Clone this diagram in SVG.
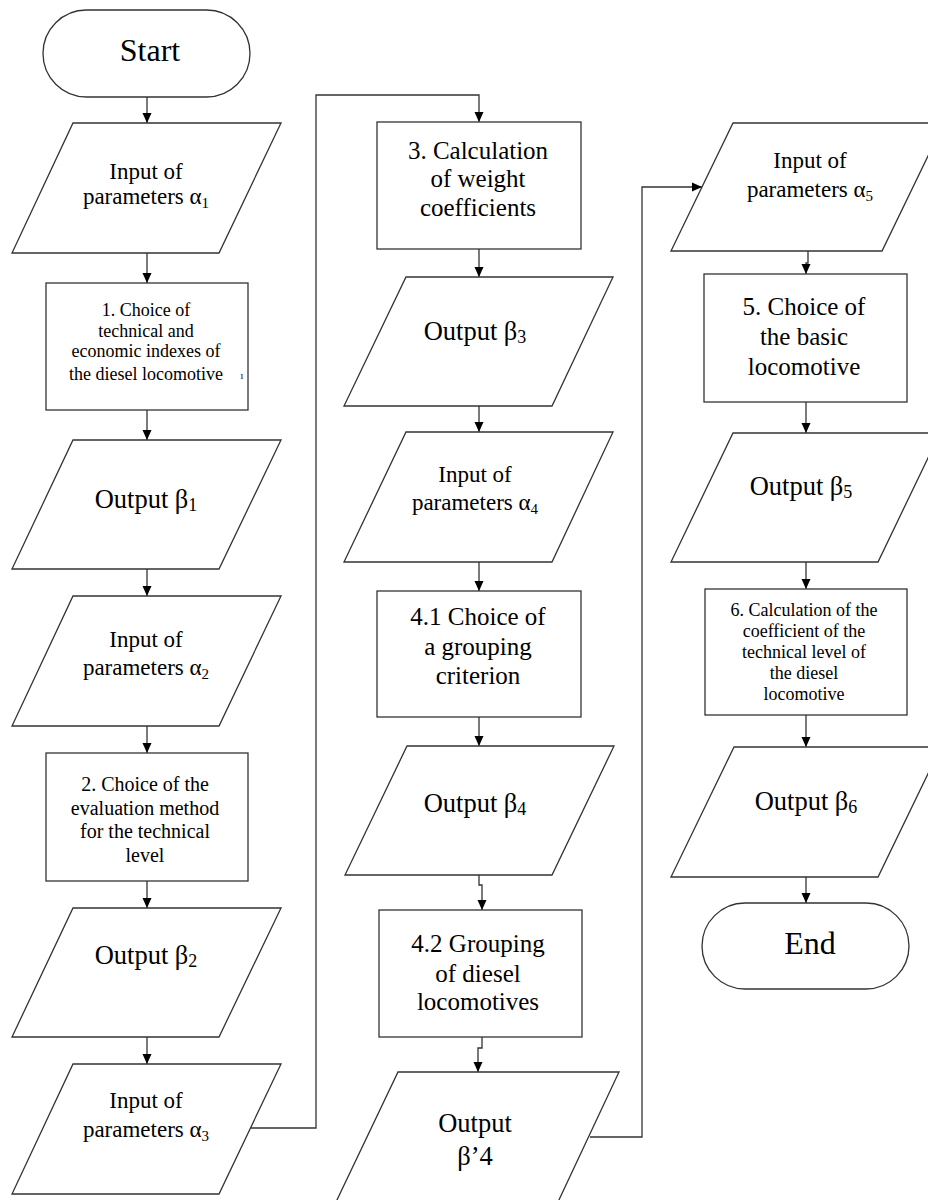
<svg xmlns="http://www.w3.org/2000/svg" width="928" height="1200" viewBox="0 0 928 1200">
<defs>
<style>
.shape{fill:#fff;stroke:#333;stroke-width:1.3}
.conn{fill:none;stroke:#333;stroke-width:1.3}
text{font-family:"Liberation Serif","Times New Roman",serif;fill:#000;text-anchor:middle}
.term{font-size:32px}
.io{font-size:23px}
.out{font-size:26.5px}
.big{font-size:25px}
.mid{font-size:20px}
.small{font-size:18px}
.sub{font-size:15px}
.subb{font-size:18px}
</style>
<marker id="arr" markerUnits="userSpaceOnUse" markerWidth="10" markerHeight="10" refX="10" refY="5" orient="auto">
<path d="M0,0.5 L10,5 L0,9.5 z" fill="#000"/>
</marker>
</defs>
<rect width="928" height="1200" fill="#fff"/>

<g id="connectors">
<path class="conn" d="M147,97 V123" marker-end="url(#arr)"/>
<path class="conn" d="M147,253 V283" marker-end="url(#arr)"/>
<path class="conn" d="M147,410 V440" marker-end="url(#arr)"/>
<path class="conn" d="M147,569 V596" marker-end="url(#arr)"/>
<path class="conn" d="M147,726 V753" marker-end="url(#arr)"/>
<path class="conn" d="M147,881 V908" marker-end="url(#arr)"/>
<path class="conn" d="M147,1037 V1064" marker-end="url(#arr)"/>
<path class="conn" d="M251,1128 H316 V95 H479 V122" marker-end="url(#arr)"/>
<path class="conn" d="M479,249 V277" marker-end="url(#arr)"/>
<path class="conn" d="M479,406 V432" marker-end="url(#arr)"/>
<path class="conn" d="M479,562 V591" marker-end="url(#arr)"/>
<path class="conn" d="M479,717 V746" marker-end="url(#arr)"/>
<path class="conn" d="M479,875 V885 H482 V910" marker-end="url(#arr)"/>
<path class="conn" d="M482,1037 V1048 H478 V1072" marker-end="url(#arr)"/>
<path class="conn" d="M590,1137 H642 V187 H702" marker-end="url(#arr)"/>
<path class="conn" d="M808,251 V263 H806 V274" marker-end="url(#arr)"/>
<path class="conn" d="M806,402 V433" marker-end="url(#arr)"/>
<path class="conn" d="M806,562 V589" marker-end="url(#arr)"/>
<path class="conn" d="M806,715 V747" marker-end="url(#arr)"/>
<path class="conn" d="M806,877 V903" marker-end="url(#arr)"/>
</g>

<g id="start">
<rect class="shape" x="43" y="10" width="207" height="87" rx="43.5" ry="43.5"/>
<text class="term" x="150" y="61">Start</text>
</g>

<g id="input-a1">
<polygon class="shape" points="73,123 281,123 219,253 12,253"/>
<text class="io" x="146" y="179">Input of</text>
<text class="io" x="146" y="204">parameters α<tspan class="sub" dy="4">1</tspan></text>
</g>

<g id="step1">
<rect class="shape" x="46" y="283" width="202" height="127"/>
<text class="small" x="146" y="316">1. Choice of</text>
<text class="small" x="146" y="337">technical and</text>
<text class="small" x="146" y="357">economic indexes of</text>
<text class="small" x="146" y="380">the diesel locomotive</text>
<text x="242" y="379" style="font-size:10px">ı</text>
</g>

<g id="output-b1">
<polygon class="shape" points="73,440 281,440 219,569 12,569"/>
<text class="out" x="146" y="508">Output β<tspan class="subb" dy="3">1</tspan></text>
</g>

<g id="input-a2">
<polygon class="shape" points="73,596 281,596 219,726 12,726"/>
<text class="io" x="146" y="647">Input of</text>
<text class="io" x="146" y="675">parameters α<tspan class="sub" dy="4">2</tspan></text>
</g>

<g id="step2">
<rect class="shape" x="46" y="753" width="202" height="128"/>
<text class="mid" x="145" y="791">2. Choice of the</text>
<text class="mid" x="145" y="815">evaluation method</text>
<text class="mid" x="145" y="838">for the technical</text>
<text class="mid" x="145" y="862">level</text>
</g>

<g id="output-b2">
<polygon class="shape" points="73,908 281,908 219,1037 12,1037"/>
<text class="out" x="146" y="964">Output β<tspan class="subb" dy="3">2</tspan></text>
</g>

<g id="input-a3">
<polygon class="shape" points="73,1064 281,1064 219,1194 12,1194"/>
<text class="io" x="146" y="1108">Input of</text>
<text class="io" x="146" y="1137">parameters α<tspan class="sub" dy="4">3</tspan></text>
</g>

<g id="step3">
<rect class="shape" x="377" y="122" width="204" height="127"/>
<text class="big" x="478" y="159">3. Calculation</text>
<text class="big" x="478" y="187">of weight</text>
<text class="big" x="478" y="216">coefficients</text>
</g>

<g id="output-b3">
<polygon class="shape" points="406,277 613,277 552,406 344,406"/>
<text class="out" x="475" y="340">Output β<tspan class="subb" dy="3">3</tspan></text>
</g>

<g id="input-a4">
<polygon class="shape" points="406,432 613,432 552,562 344,562"/>
<text class="io" x="475" y="482">Input of</text>
<text class="io" x="475" y="510">parameters α<tspan class="sub" dy="4">4</tspan></text>
</g>

<g id="step4-1">
<rect class="shape" x="377" y="591" width="204" height="126"/>
<text class="big" x="478" y="625">4.1 Choice of</text>
<text class="big" x="478" y="655">a grouping</text>
<text class="big" x="478" y="684">criterion</text>
</g>

<g id="output-b4">
<polygon class="shape" points="407,746 614,746 552,875 345,875"/>
<text class="out" x="475" y="812">Output β<tspan class="subb" dy="3">4</tspan></text>
</g>

<g id="step4-2">
<rect class="shape" x="379" y="910" width="203" height="127"/>
<text class="big" x="478" y="952">4.2 Grouping</text>
<text class="big" x="478" y="982">of diesel</text>
<text class="big" x="478" y="1010">locomotives</text>
</g>

<g id="output-b4p">
<polygon class="shape" points="398,1072 619,1072 558,1202 336,1202"/>
<text class="out" x="475" y="1132">Output</text>
<text class="out" x="475" y="1165">β’4</text>
</g>

<g id="input-a5">
<polygon class="shape" points="733,123 944,123 882,251 671,251"/>
<text class="io" x="810" y="168">Input of</text>
<text class="io" x="810" y="197">parameters α<tspan class="sub" dy="4">5</tspan></text>
</g>

<g id="step5">
<rect class="shape" x="704" y="274" width="203" height="128"/>
<text class="big" x="804" y="315">5. Choice of</text>
<text class="big" x="804" y="345">the basic</text>
<text class="big" x="804" y="375">locomotive</text>
</g>

<g id="output-b5">
<polygon class="shape" points="733,433 940,433 878,562 671,562"/>
<text class="out" x="801" y="495">Output β<tspan class="subb" dy="3">5</tspan></text>
</g>

<g id="step6">
<rect class="shape" x="705" y="589" width="202" height="126"/>
<text class="small" x="804" y="616">6. Calculation of the</text>
<text class="small" x="804" y="637">coefficient of the</text>
<text class="small" x="804" y="658">technical level of</text>
<text class="small" x="804" y="679">the diesel</text>
<text class="small" x="804" y="700">locomotive</text>
</g>

<g id="output-b6">
<polygon class="shape" points="734,747 941,747 878,877 671,877"/>
<text class="out" x="806" y="810">Output β<tspan class="subb" dy="3">6</tspan></text>
</g>

<g id="end">
<rect class="shape" x="702" y="903" width="207" height="86" rx="43" ry="43"/>
<text class="term" x="810" y="954">End</text>
</g>
</svg>
